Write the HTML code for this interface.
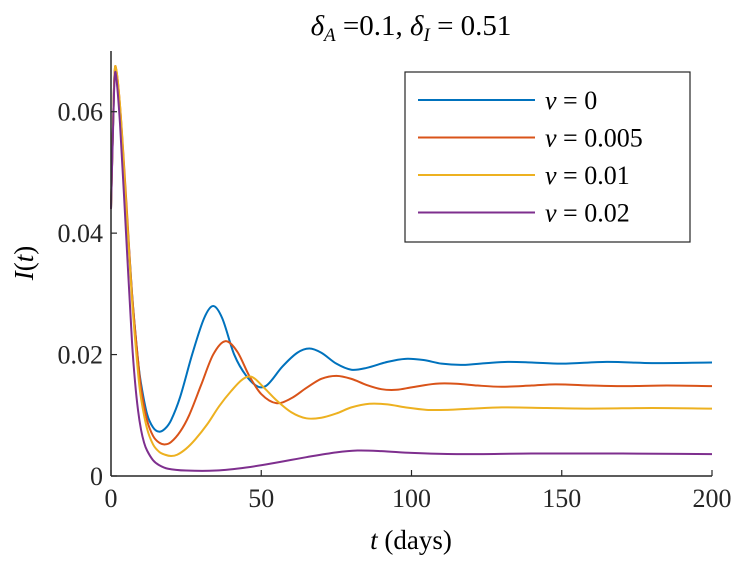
<!DOCTYPE html>
<html><head><meta charset="utf-8"><style>
body{margin:0;background:#fff;}
svg{display:block;font-family:"Liberation Serif",serif;}
</style></head><body>
<svg width="747" height="567">
<g id="plot"></g>
<g id="axes"></g>
<text x="411" y="35" font-size="29" text-anchor="middle"><tspan font-style="italic">δ</tspan><tspan font-style="italic" font-size="19" dy="6">A</tspan><tspan dy="-6"> =0.1, </tspan><tspan font-style="italic">δ</tspan><tspan font-style="italic" font-size="19" dy="6">I</tspan><tspan dy="-6"> = 0.51</tspan></text>
<text x="411" y="549" font-size="27" text-anchor="middle"><tspan font-style="italic">t</tspan> (days)</text>
<text transform="translate(33,263) rotate(-90)" font-size="27" text-anchor="middle"><tspan font-style="italic">I</tspan>(<tspan font-style="italic">t</tspan>)</text>
<g id="legend"></g>
</svg>
<script>
const xTicks=[0,50,100,150,200];
const yTicks=[0,0.02,0.04,0.06];
const yTickLabels=["0","0.02","0.04","0.06"];
const seriesNames=["ν = 0","ν = 0.005","ν = 0.01","ν = 0.02"];
const seriesColors=["#0072BD","#D95319","#EDB120","#7E2F8E"];
const s0=[[0,0.044],[1,0.064],[1.5,0.067],[3,0.060],[5,0.045],[7,0.030],[9,0.019],[10,0.0152],[12,0.0102],[14,0.0080],[16,0.0073],[18,0.0078],[20,0.0092],[23,0.013],[27,0.020],[31,0.026],[34,0.028],[37,0.026],[41,0.020],[45,0.0165],[49,0.0147],[52,0.015],[57,0.018],[62,0.0203],[66,0.021],[70,0.0203],[75,0.0185],[80,0.0175],[85,0.0178],[92,0.0188],[98,0.0193],[104,0.0191],[110,0.0185],[117,0.0183],[125,0.0186],[132,0.0188],[140,0.0187],[150,0.0185],[165,0.0188],[180,0.0186],[200,0.0187]];
const s1=[[0,0.044],[1,0.064],[1.5,0.0675],[3,0.061],[5,0.046],[7,0.030],[9,0.019],[10,0.0145],[12,0.0092],[14,0.0066],[16,0.0055],[18,0.0052],[20,0.0056],[23,0.0073],[26,0.010],[30,0.015],[34,0.020],[38,0.0222],[42,0.0205],[46,0.0165],[50,0.0135],[55,0.012],[60,0.0128],[65,0.0145],[70,0.016],[75,0.0165],[80,0.0160],[85,0.015],[90,0.0143],[95,0.0142],[100,0.0146],[108,0.0152],[115,0.0152],[122,0.0149],[130,0.0147],[140,0.0149],[148,0.0151],[160,0.0149],[170,0.0148],[185,0.0149],[200,0.0148]];
const s2=[[0,0.044],[1,0.064],[1.5,0.0675],[3,0.061],[5,0.045],[7,0.029],[9,0.017],[10,0.0128],[12,0.0078],[14,0.0052],[16,0.0040],[18,0.0035],[20,0.0033],[22,0.0035],[25,0.0045],[28,0.006],[32,0.0085],[36,0.0115],[40,0.014],[44,0.016],[47,0.0163],[51,0.0145],[55,0.0125],[60,0.0105],[65,0.0095],[70,0.0096],[75,0.0103],[80,0.0113],[86,0.0119],[92,0.0118],[98,0.0113],[105,0.0109],[112,0.0109],[120,0.0111],[130,0.0113],[145,0.0112],[160,0.0111],[180,0.0112],[200,0.0111]];
const s3=[[0,0.044],[1,0.063],[1.5,0.0665],[3,0.058],[5,0.040],[7,0.022],[8,0.0155],[9,0.0108],[10,0.0076],[11,0.0055],[12,0.0042],[14,0.0026],[16,0.0018],[19,0.0012],[25,0.0009],[35,0.0009],[45,0.0014],[55,0.0022],[65,0.0031],[75,0.0039],[82,0.0042],[90,0.0041],[100,0.0038],[115,0.0036],[140,0.0037],[170,0.0037],[200,0.0036]];
const allSeries=[s0,s1,s2,s3];
const NS="http://www.w3.org/2000/svg";
const X0=111,X1=712,Y0=476,YT=51;
const xs=t=>X0+(t/200)*(X1-X0);
const ys=v=>Y0-(v/0.07)*(Y0-YT);
function mk(tag,attrs,parent){const e=document.createElementNS(NS,tag);for(const k in attrs)e.setAttribute(k,attrs[k]);parent.appendChild(e);return e;}
function pathD(pts){const p=pts.map(d=>[xs(d[0]),ys(d[1])]);let d="M"+p[0][0]+","+p[0][1];
for(let i=0;i<p.length-1;i++){const a=p[Math.max(0,i-1)],b=p[i],c=p[i+1],e=p[Math.min(p.length-1,i+2)];
const h=c[0]-b[0];
const m1=(c[1]-a[1])/((c[0]-a[0])||1),m2=(e[1]-b[1])/((e[0]-b[0])||1);
d+=" C"+(b[0]+h/3)+","+(b[1]+m1*h/3)+" "+(c[0]-h/3)+","+(c[1]-m2*h/3)+" "+c[0]+","+c[1];}return d;}
const plot=document.getElementById('plot');
allSeries.forEach((s,i)=>{const el=mk('path',{d:pathD(s),fill:'none',stroke:seriesColors[i],'stroke-width':2},plot);

});
const ax=document.getElementById('axes');
const xl=mk('line',{x1:X0,y1:Y0,x2:X1,y2:Y0,stroke:'#262626','stroke-width':1.5},ax);


const yl=mk('line',{x1:X0,y1:Y0,x2:X0,y2:YT,stroke:'#262626','stroke-width':1.5},ax);


xTicks.forEach(t=>{mk('line',{x1:xs(t),y1:Y0,x2:xs(t),y2:Y0-6,stroke:'#262626','stroke-width':1.2},ax);
const tx=mk('text',{x:xs(t),y:Y0+31,'font-size':26,'text-anchor':'middle',fill:'#262626'},ax);tx.textContent=t;

});
yTicks.forEach((v,i)=>{mk('line',{x1:X0,y1:ys(v),x2:X0+6,y2:ys(v),stroke:'#262626','stroke-width':1.2},ax);
const tx=mk('text',{x:X0-8,y:ys(v)+9,'font-size':26,'text-anchor':'end',fill:'#262626'},ax);tx.textContent=yTickLabels[i];

});
const lg=document.getElementById('legend');
mk('rect',{x:405,y:72,width:285,height:170,fill:'#fff',stroke:'#262626','stroke-width':1.2},lg);
seriesNames.forEach((n,i)=>{const y=100+i*37.5;
const ln=mk('line',{x1:418,y1:y,x2:535,y2:y,stroke:seriesColors[i],'stroke-width':2},lg);


const tx=mk('text',{x:545,y:y+9,'font-size':26},lg);
const parts=n.split(' = ');
tx.innerHTML='<tspan font-style="italic">ν</tspan> = '+parts[1];

});
</script>
</body></html>
